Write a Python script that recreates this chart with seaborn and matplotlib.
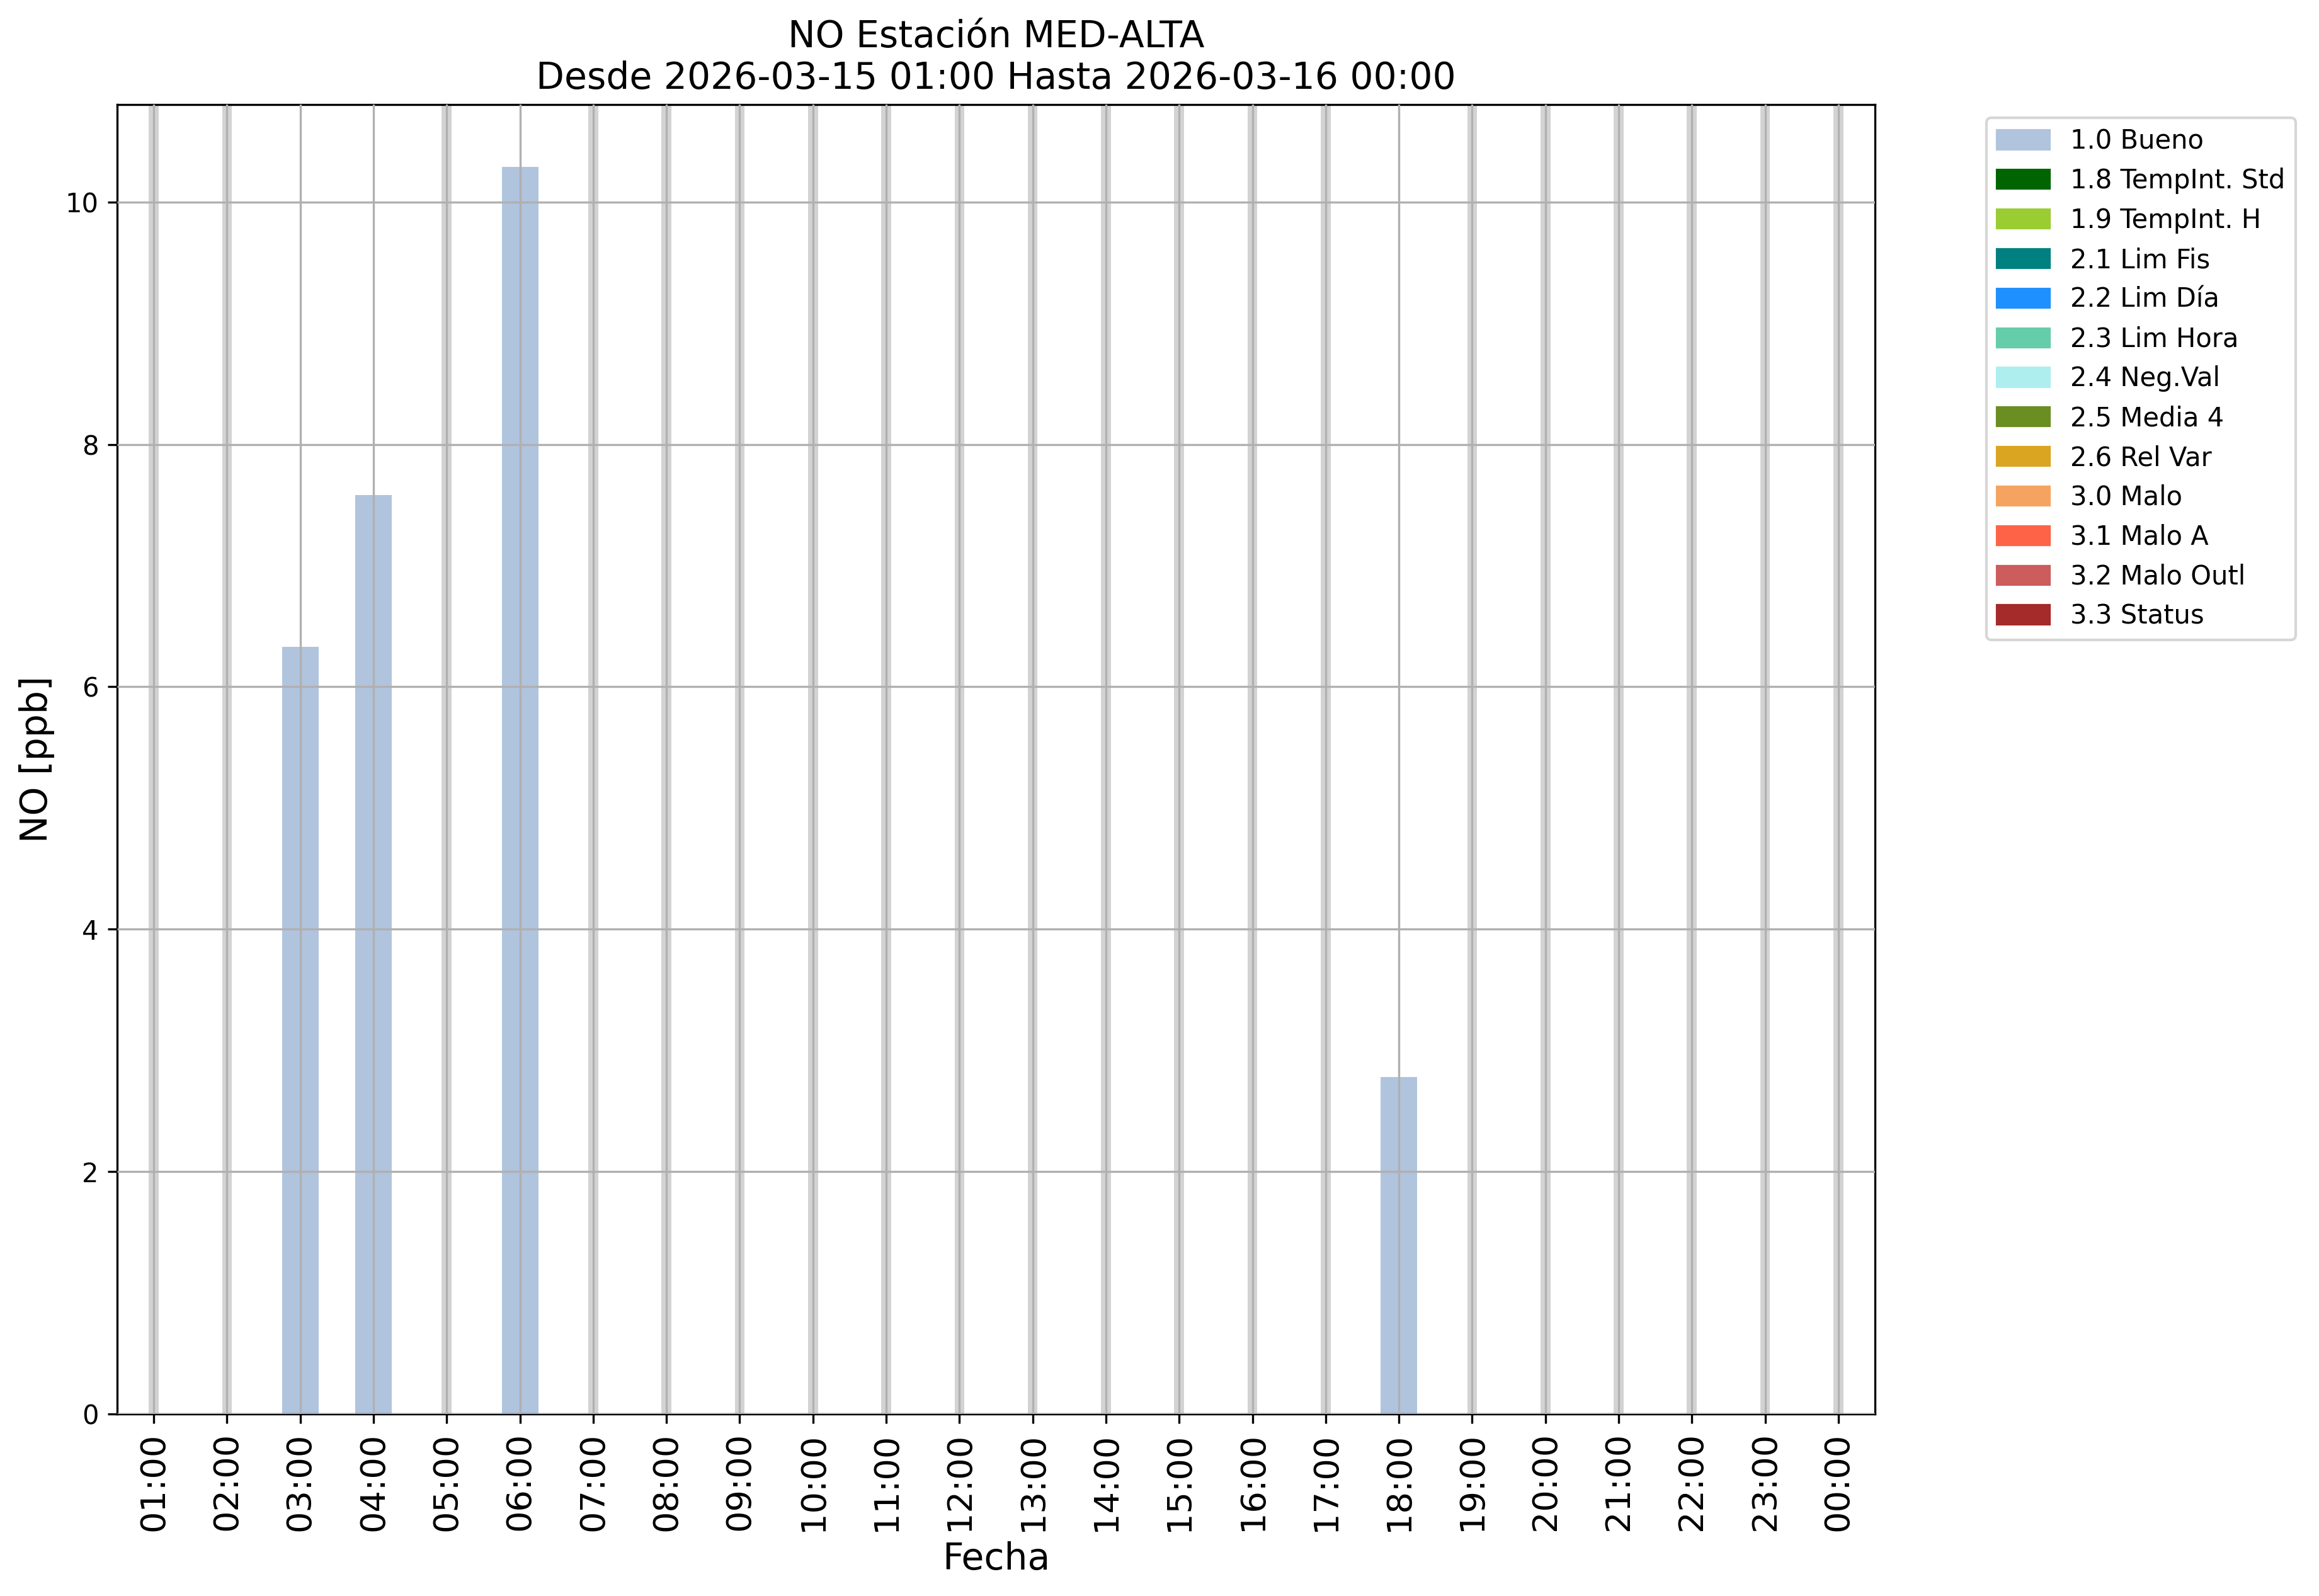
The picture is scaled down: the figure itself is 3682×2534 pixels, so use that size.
import numpy as np
import pandas as pd
import matplotlib
matplotlib.use("Agg")
import matplotlib.pyplot as plt
import matplotlib.patches as mpatches
import seaborn as sns

# ---- data ----
hours = ["01:00", "02:00", "03:00", "04:00", "05:00", "06:00", "07:00", "08:00",
         "09:00", "10:00", "11:00", "12:00", "13:00", "14:00", "15:00", "16:00",
         "17:00", "18:00", "19:00", "20:00", "21:00", "22:00", "23:00", "00:00"]
no_values = [np.nan, np.nan, 6.33, 7.58, np.nan, 10.29, np.nan, np.nan,
             np.nan, np.nan, np.nan, np.nan, np.nan, np.nan, np.nan, np.nan,
             np.nan, 2.78, np.nan, np.nan, np.nan, np.nan, np.nan, np.nan]

flag_labels = ["1.0 Bueno", "1.8 TempInt. Std", "1.9 TempInt. H", "2.1 Lim Fis",
               "2.2 Lim Día", "2.3 Lim Hora", "2.4 Neg.Val", "2.5 Media 4",
               "2.6 Rel Var", "3.0 Malo", "3.1 Malo A", "3.2 Malo Outl", "3.3 Status"]
flag_colors = ["lightsteelblue", "darkgreen", "yellowgreen", "teal",
               "dodgerblue", "mediumaquamarine", "paleturquoise", "olivedrab",
               "goldenrod", "sandybrown", "tomato", "indianred", "brown"]

title = "NO Estación MED-ALTA\nDesde 2026-03-15 01:00 Hasta 2026-03-16 00:00"

df = pd.DataFrame({"hora": hours, "valor": no_values})
valid = df.dropna()

DPI = 300
fig = plt.figure(figsize=(3682 / DPI, 2534 / DPI), dpi=DPI)
ax = fig.add_axes([186 / 3682, (2534 - 2245) / 2534,
                   (2977 - 186) / 3682, (2245 - 166) / 2534])

# missing-data markers
for i, v in enumerate(no_values):
    if np.isnan(v):
        ax.axvspan(i - 0.0675, i + 0.0675, color="lightgray", lw=0, zorder=1)

sns.barplot(data=valid, x="hora", y="valor", order=hours, color="lightsteelblue",
            saturation=1, width=0.5, errorbar=None, ax=ax, zorder=1)

ax.set_xlim(-0.5, len(hours) - 0.5)
ax.margins(y=0.05)
ax.set_ylim(0, np.nanmax(no_values) * 1.05)
ax.grid(True, color="#b0b0b0", linewidth=0.8)
ax.set_axisbelow(False)
for sp in ax.spines.values():
    sp.set_color("black")
    sp.set_linewidth(0.8)

ax.tick_params(axis="x", labelsize=13, rotation=90)
ax.tick_params(axis="y", labelsize=10)
ax.set_xlabel("Fecha", fontsize=14)
ax.set_ylabel("NO [ppb]", fontsize=14)
ax.set_title(title, fontsize=14)

handles = [mpatches.Patch(color=c, label=l) for l, c in zip(flag_labels, flag_colors)]
ax.legend(handles=handles, loc="upper left", bbox_to_anchor=(1.056, 1.0),
          fontsize=10, frameon=True)

fig.savefig("out.png", dpi=DPI)
